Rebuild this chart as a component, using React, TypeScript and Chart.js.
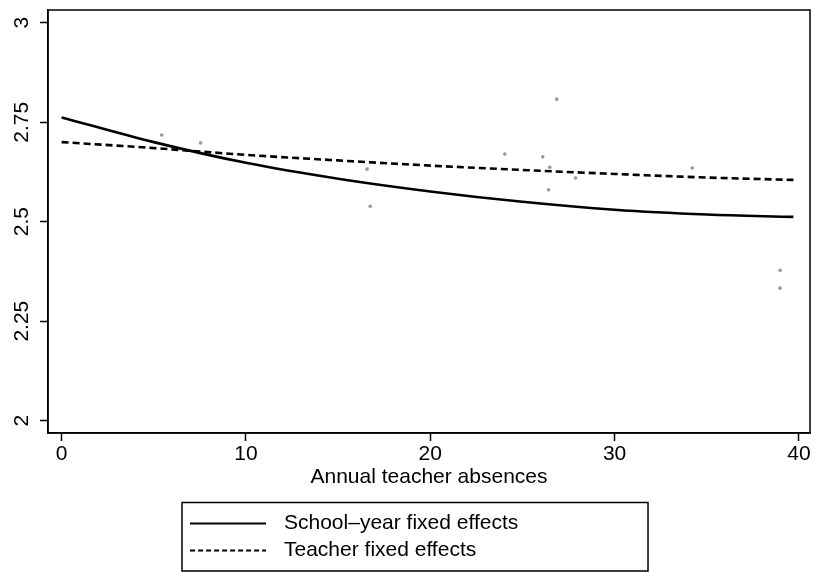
import React, { useEffect, useRef } from 'react';
import { Chart, registerables } from 'chart.js';

Chart.register(...registerables);

const FONT = '"Liberation Sans", Arial, Helvetica, sans-serif';

// Axis ticks
const xTicks = [0, 10, 20, 30, 40];
const yTicks = [2, 2.25, 2.5, 2.75, 3];
const yTickLabels = ['2', '2.25', '2.5', '2.75', '3'];
const xTitle = 'Annual teacher absences';

// Series labels
const seriesLabels = ['School\u2013year fixed effects', 'Teacher fixed effects'];

// School-year fixed effects (solid curve)
const schoolYearX = [0, 5, 10, 15, 20, 25, 30, 35, 39.7];
const schoolYearY = [2.762, 2.7, 2.648, 2.608, 2.576, 2.55, 2.53, 2.518, 2.512];

// Teacher fixed effects (dashed curve)
const teacherX = [0, 5, 10, 15, 20, 25, 30, 35, 39.7];
const teacherY = [2.7, 2.685, 2.668, 2.654, 2.641, 2.63, 2.62, 2.611, 2.605];

// Scattered observations (small gray marks)
const obsX = [5.43, 7.54, 16.57, 16.74, 24.04, 26.86, 26.1, 26.48, 26.42, 27.88, 34.21, 38.98, 38.98];
const obsY = [2.718, 2.698, 2.632, 2.539, 2.67, 2.808, 2.663, 2.637, 2.58, 2.61, 2.635, 2.378, 2.333];

const toPts = (xs: number[], ys: number[]) => xs.map((x, i) => ({ x, y: ys[i] }));

const framePlugin = {
  id: 'frame',
  afterDraw(chart: any) {
    const { ctx, chartArea } = chart;
    ctx.save();
    // plot box
    ctx.strokeStyle = '#000';
    ctx.lineWidth = 1.5;
    ctx.setLineDash([]);
    ctx.strokeRect(chartArea.left, chartArea.top, chartArea.right - chartArea.left, chartArea.bottom - chartArea.top);

    // rotated y tick labels
    const ys = chart.scales.y;
    ctx.fillStyle = '#000';
    ctx.font = `21px ${FONT}`;
    ctx.textAlign = 'center';
    ctx.textBaseline = 'middle';
    yTicks.forEach((v, i) => {
      const py = ys.getPixelForValue(v);
      ctx.save();
      ctx.translate(22, py);
      ctx.rotate(-Math.PI / 2);
      ctx.fillText(yTickLabels[i], 0, 0);
      ctx.restore();
    });

    // legend
    const boxL = 182, boxT = 502.5, boxR = 648, boxB = 571;
    ctx.lineWidth = 1.5;
    ctx.strokeRect(boxL, boxT, boxR - boxL, boxB - boxT);
    const rows = [523.5, 550.5];
    const dashes = [[], [5, 3]];
    seriesLabels.forEach((lab, i) => {
      ctx.beginPath();
      ctx.setLineDash(dashes[i]);
      ctx.lineWidth = 2;
      ctx.moveTo(190, rows[i]);
      ctx.lineTo(266, rows[i]);
      ctx.stroke();
      ctx.setLineDash([]);
      ctx.textAlign = 'left';
      ctx.textBaseline = 'middle';
      ctx.fillText(lab, 284, rows[i]);
    });
    ctx.restore();
  },
};

export default function App() {
  const ref = useRef<HTMLCanvasElement>(null);
  useEffect(() => {
    if (!ref.current) return;
    const chart = new Chart(ref.current, {
      type: 'scatter',
      data: {
        datasets: [
          {
            label: 'Observations',
            data: toPts(obsX, obsY),
            pointRadius: 1.8,
            pointBackgroundColor: '#999999',
            pointBorderColor: '#999999',
            pointBorderWidth: 0,
            showLine: false,
          },
          {
            label: seriesLabels[0],
            data: toPts(schoolYearX, schoolYearY),
            showLine: true,
            borderColor: '#000',
            borderWidth: 2.6,
            pointRadius: 0,
            cubicInterpolationMode: 'monotone',
          },
          {
            label: seriesLabels[1],
            data: toPts(teacherX, teacherY),
            showLine: true,
            borderColor: '#000',
            borderWidth: 2.6,
            borderDash: [7, 4],
            pointRadius: 0,
            cubicInterpolationMode: 'monotone',
          },
        ],
      },
      options: {
        responsive: false,
        animation: false,
        layout: { padding: { left: 0, right: 2, top: 10, bottom: 79 } },
        plugins: { legend: { display: false }, tooltip: { enabled: false } },
        scales: {
          x: {
            type: 'linear',
            min: -0.74,
            max: 40.6,
            afterBuildTicks: (s: any) => {
              s.ticks = xTicks.map((v) => ({ value: v }));
            },
            afterFit: (s: any) => {
              s.height = 60;
            },
            grid: {
              display: true,
              drawOnChartArea: false,
              drawTicks: true,
              tickLength: 8,
              tickWidth: 1.5,
              tickColor: '#000',
            },
            border: { display: true, color: '#000', width: 1.5 },
            ticks: {
              color: '#000',
              font: { family: FONT, size: 21 },
              padding: 1,
              maxRotation: 0,
              autoSkip: false,
              callback: (v: any) => String(v),
            },
            title: {
              display: true,
              text: xTitle,
              color: '#000',
              font: { family: FONT, size: 21 },
              padding: { top: 0, bottom: 3 },
            },
          },
          y: {
            type: 'linear',
            min: 1.969,
            max: 3.032,
            afterBuildTicks: (s: any) => {
              s.ticks = yTicks.map((v) => ({ value: v }));
            },
            afterFit: (s: any) => {
              s.width = 48;
            },
            grid: {
              display: true,
              drawOnChartArea: false,
              drawTicks: true,
              tickLength: 8,
              tickWidth: 1.5,
              tickColor: '#000',
            },
            border: { display: true, color: '#000', width: 1.5 },
            ticks: { display: false },
          },
        },
      },
      plugins: [framePlugin],
    });
    return () => chart.destroy();
  }, []);
  return (
    <div style={{ position: 'absolute', left: 0, top: 0, width: 814, height: 572, background: '#fff' }}>
      <canvas ref={ref} width={814} height={572} />
    </div>
  );
}
